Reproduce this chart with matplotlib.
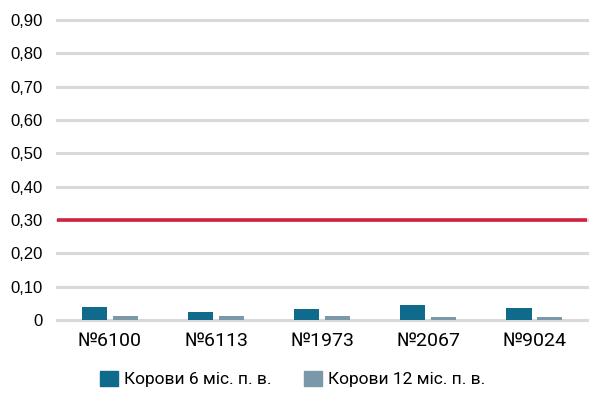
import matplotlib
matplotlib.use("Agg")
import matplotlib.pyplot as plt
import numpy as np
from matplotlib import font_manager as fm
from matplotlib.patches import Patch

categories = ["№6100", "№6113", "№1973", "№2067", "№9024"]
series_names = ["Корови 6 міс. п. в.", "Корови 12 міс. п. в."]
cows_6 = [0.040, 0.025, 0.032, 0.045, 0.036]
cows_12 = [0.012, 0.012, 0.012, 0.009, 0.009]
limit_value = 0.30
y_ticks = [0.0, 0.1, 0.2, 0.3, 0.4, 0.5, 0.6, 0.7, 0.8, 0.9]
y_tick_labels = ["0", "0,10", "0,20", "0,30", "0,40", "0,50", "0,60", "0,70", "0,80", "0,90"]

names = {f.name for f in fm.fontManager.ttflist}
narrow = "Liberation Sans Narrow" if "Liberation Sans Narrow" in names else "Roboto"
regular = "Liberation Sans" if "Liberation Sans" in names else "DejaVu Sans"

dark = "#0f6a8b"
light = "#7b98a9"
red = "#d2233c"
grid = "#d9d9d9"

fig = plt.figure(figsize=(6.06, 3.97), dpi=100)
ax = fig.add_axes([0.094, 0.194, 0.875, 0.756])

x = np.arange(len(categories))
w = 0.24
off = 0.145
ax.bar(x - off, cows_6, width=w, color=dark, zorder=3)
ax.bar(x + off, cows_12, width=w, color=light, zorder=3)

ax.set_xlim(-0.5, len(categories) - 0.5)
ax.set_ylim(0, 0.9)
ax.set_yticks(y_ticks)
ax.set_yticklabels(y_tick_labels, fontsize=12, family=[regular, "DejaVu Sans"])
for yv in y_ticks:
    ax.axhline(yv, color=grid, lw=2.2, zorder=1, clip_on=False)
ax.axhline(limit_value, color=red, lw=2.6, zorder=4)

ax.set_xticks(x)
ax.set_xticklabels(categories, fontsize=14, family=[narrow, "DejaVu Sans"])
ax.tick_params(axis="both", length=0)
ax.tick_params(axis="y", pad=10)
ax.tick_params(axis="x", pad=9)
for s in ax.spines.values():
    s.set_visible(False)

handles = [Patch(color=dark), Patch(color=light)]
fig.legend(handles, series_names, loc="center", bbox_to_anchor=(0.483, 1 - 379 / 397),
           ncol=2, frameon=False, prop={"family": [narrow, "DejaVu Sans"], "size": 12.5},
           handlelength=1.0, handleheight=1.0, handletextpad=0.35, columnspacing=1.9)

fig.savefig("out.png", dpi=100)
